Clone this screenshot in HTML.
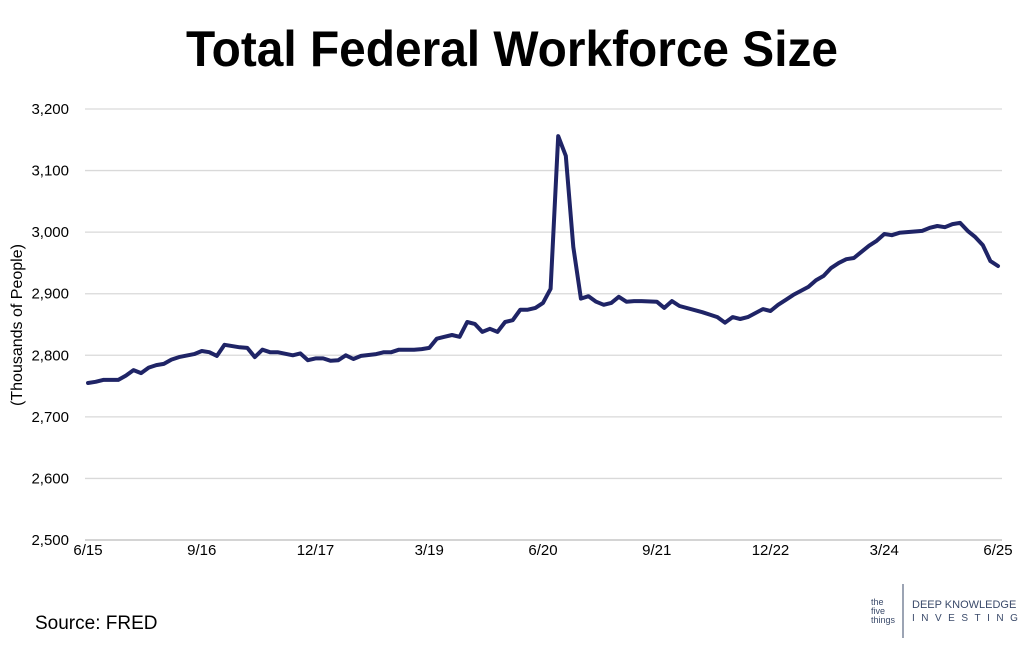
<!DOCTYPE html>
<html><head><meta charset="utf-8"><style>
body{margin:0;background:#fff;width:1024px;height:649px;overflow:hidden;font-family:"Liberation Sans",sans-serif}
</style></head><body>
<svg width="1024" height="649" viewBox="0 0 1024 649" id="c">
<text x="512" y="66" text-anchor="middle" font-size="50" font-weight="bold" textLength="652" lengthAdjust="spacingAndGlyphs" fill="#000">Total Federal Workforce Size</text>
<text transform="translate(22,325) rotate(-90)" text-anchor="middle" font-size="16" fill="#000">(Thousands of People)</text>
<g id="grid"></g><g id="yt"></g><g id="xt"></g>
<path id="line" fill="none" stroke="#1f2466" stroke-width="4" stroke-linejoin="round" stroke-linecap="round"/>
<text x="35" y="629" font-size="19" fill="#000">Source: FRED</text>
<g fill="#3a4a6a">
<text x="871" y="605" font-size="9">the</text><text x="871" y="614" font-size="9">five</text><text x="871" y="623" font-size="9">things</text>
<line x1="903" y1="584" x2="903" y2="638" stroke="#3a4a6a" stroke-width="1"/>
<text x="912" y="608" font-size="11">DEEP KNOWLEDGE</text>
<text x="912" y="621" font-size="10" letter-spacing="6.5">INVESTING</text>
</g>
</svg>
<script>
const months=[0,1,2,4,5,6,7,8,9,10,11,12,14,15,16,17,18,20,21,22,23,24,25,27,28,29,30,31,32,33,34,35,36,38,39,40,41,43,44,45,46,47,48,49,50,51,52,53,54,55,56,57,58,59,60,61,62,63,64,65,66,67,68,69,70,71,72,73,75,76,77,78,81,82,83,84,85,86,87,89,90,91,92,93,95,96,97,98,99,100,101,102,103,104,105,106,107,110,111,112,113,114,115,116,117,118,119,120];
const values=[2755,2757,2760,2760,2767,2776,2771,2780,2784,2786,2793,2797,2802,2807,2805,2799,2817,2813,2812,2797,2809,2805,2805,2800,2803,2792,2795,2795,2791,2792,2800,2794,2799,2802,2805,2805,2809,2809,2810,2812,2827,2830,2833,2830,2854,2851,2838,2843,2838,2854,2857,2874,2874,2877,2885,2908,3156,3124,2976,2892,2896,2887,2882,2885,2895,2887,2888,2888,2887,2877,2888,2880,2870,2866,2862,2853,2862,2859,2862,2875,2872,2882,2890,2898,2911,2922,2929,2942,2950,2956,2958,2968,2978,2986,2997,2995,2999,3002,3007,3010,3008,3013,3015,3002,2992,2979,2953,2945];
const yTicks=[2500,2600,2700,2800,2900,3000,3100,3200];
const xLabels=["6/15","9/16","12/17","3/19","6/20","9/21","12/22","3/24","6/25"];
const X0=88,X1=998,Y0=540,Y1=109;
const xs=m=>X0+(X1-X0)*m/120;
const ys=v=>Y0-(Y0-Y1)*(v-2500)/700;
const NS="http://www.w3.org/2000/svg";
const grid=document.getElementById('grid'),yt=document.getElementById('yt'),xt=document.getElementById('xt');
yTicks.forEach(v=>{
 const l=document.createElementNS(NS,'line');
 l.setAttribute('x1',85);l.setAttribute('x2',1002);l.setAttribute('y1',ys(v));l.setAttribute('y2',ys(v));
 l.setAttribute('stroke',v===2500?'#bbb':'#d9d9d9');l.setAttribute('stroke-width',1.3);
 
 
 grid.appendChild(l);
 const t=document.createElementNS(NS,'text');
 t.setAttribute('x',69);t.setAttribute('y',ys(v)+5);t.setAttribute('text-anchor','end');t.setAttribute('font-size','15');
 t.textContent=v.toLocaleString('en-US');
 
 
 yt.appendChild(t);
});
xLabels.forEach((s,i)=>{
 const t=document.createElementNS(NS,'text');
 t.setAttribute('x',xs(i*15));t.setAttribute('y',555);t.setAttribute('text-anchor','middle');t.setAttribute('font-size','15');
 t.textContent=s;
 
 
 xt.appendChild(t);
});
document.getElementById('line').setAttribute('d',months.map((m,i)=>(i?'L':'M')+xs(m).toFixed(1)+' '+ys(values[i]).toFixed(1)).join(' '));
</script>
</body></html>
